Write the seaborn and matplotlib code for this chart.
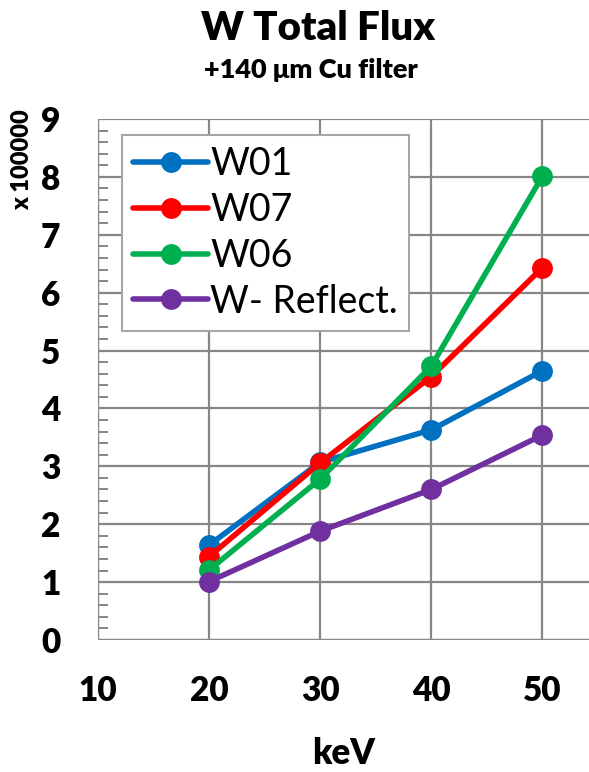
import numpy as np
import pandas as pd
import matplotlib
matplotlib.use("Agg")
import matplotlib.pyplot as plt
import seaborn as sns

energy = [20, 30, 40, 50]
w01 = [1.64, 3.07, 3.63, 4.65]
w07 = [1.44, 3.06, 4.55, 6.43]
w06 = [1.21, 2.78, 4.73, 8.01]
w_reflect = [1.01, 1.88, 2.60, 3.54]
series_names = ["W01", "W07", "W06", "W- Reflect."]
colors = ["#0070C0", "#FF0000", "#00B050", "#7030A0"]

df = pd.concat([
    pd.DataFrame({"keV": energy, "flux": vals, "series": name})
    for name, vals in zip(series_names, [w01, w07, w06, w_reflect])
])

sns.set_theme(style="white")
plt.rcParams['font.family'] = ['Lato', 'DejaVu Sans']
plt.rcParams['text.color'] = 'black'
plt.rcParams['xtick.color'] = 'black'
plt.rcParams['ytick.color'] = 'black'
plt.rcParams['axes.labelcolor'] = 'black'

W, H = 589, 772
fig = plt.figure(figsize=(W / 100, H / 100), dpi=100)
ax = fig.add_axes([98 / W, (H - 640) / H, (589 - 98) / W, (640 - 119) / H])

sns.lineplot(data=df, x="keV", y="flux", hue="series", palette=colors,
             hue_order=series_names, marker="o", markersize=15,
             markeredgewidth=0, linewidth=4.0, ax=ax, zorder=3)

ax.set_xlim(10, 54.2)
ax.set_ylim(0, 9)
ax.set_xticks([10, 20, 30, 40, 50])
ax.set_yticks(range(0, 10))
ax.set_yticks(np.arange(0, 9.01, 0.2), minor=True)
ax.grid(True, which="major", color="#878787", linewidth=1.6, zorder=0)
for s in ax.spines.values():
    s.set_visible(False)
ax.axvline(10, color="#878787", linewidth=1.6, zorder=1)
ax.axhline(0, color="#878787", linewidth=1.6, zorder=1)

ax.tick_params(axis="y", which="major", direction="out", length=9, width=1.6,
               color="#878787", labelcolor="black", pad=18, labelsize=24)
ax.tick_params(axis="y", which="minor", direction="in", length=7, width=1.4,
               color="#878787", left=True)
ax.tick_params(axis="x", which="major", direction="out", length=9, width=1.6,
               color="#878787", labelcolor="black", pad=16, labelsize=24)
for lab in ax.get_xticklabels() + ax.get_yticklabels():
    lab.set_fontweight("heavy")

ax.set_xlabel("keV", fontsize=25, fontweight="heavy", labelpad=22)
ax.set_ylabel("")

fig.text(318 / W, 1 - 28 / H, "W Total Flux",
         ha="center", va="center", fontsize=29, fontweight="heavy")
fig.text(311 / W, 1 - 70 / H, "+140 \u03bcm Cu filter",
         ha="center", va="center", fontsize=19.5, fontweight="heavy")
fig.text(22 / W, 1 - 160 / H, "x 100000", rotation=90,
         ha="center", va="center", fontsize=17, fontweight="heavy")

leg = ax.legend(loc="upper left", bbox_to_anchor=((122 - 98) / (589 - 98), (640 - 135) / (640 - 119)),
                prop={"family": ["Lato", "DejaVu Sans"], "size": 27},
                frameon=True, fancybox=False, edgecolor="#A6A6A6",
                handlelength=2.0, handletextpad=0.05, labelspacing=0.26,
                borderpad=0.3, borderaxespad=0)
leg.get_frame().set_linewidth(1.5)
leg.get_frame().set_facecolor("white")
leg.get_frame().set_alpha(1)
leg.set_zorder(5)

fig.savefig("out.png", dpi=100, facecolor="white")
